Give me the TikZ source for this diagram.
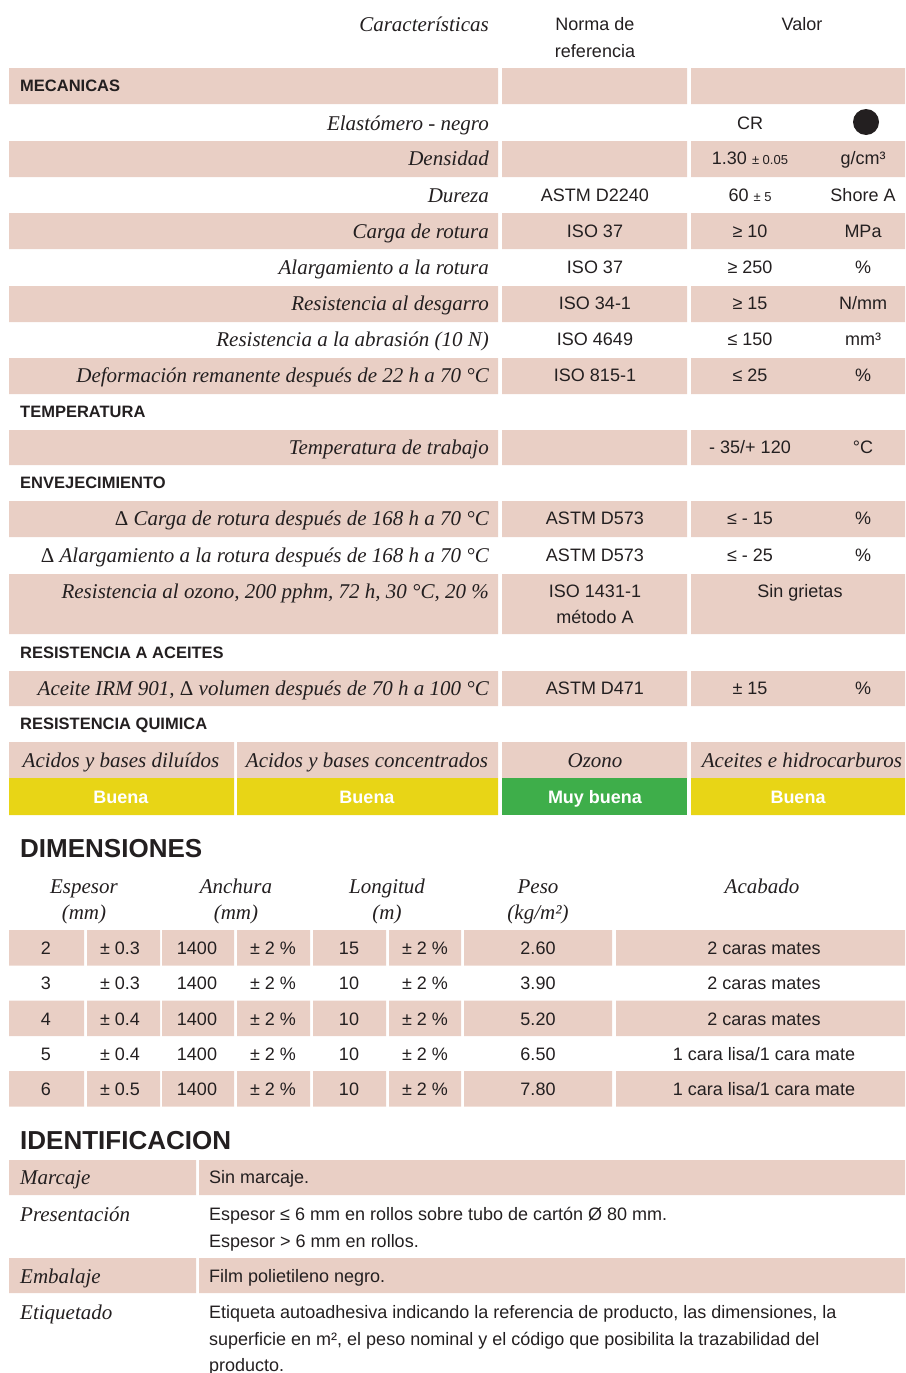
\documentclass[tikz,border=0pt]{standalone}
\usepackage{fontspec}
\setmainfont{Liberation Serif}
\setsansfont{Liberation Sans}
\usetikzlibrary{positioning}

\definecolor{rowpink}{HTML}{E9CFC5}
\definecolor{goodyellow}{HTML}{E8D516}
\definecolor{goodgreen}{HTML}{3EAE4A}
\definecolor{ink}{HTML}{231F20}

\newcommand{\charfont}{\fontsize{21}{24}\selectfont\rmfamily\itshape}
\newcommand{\valfont}{\fontsize{18}{22}\selectfont\sffamily}
\newcommand{\secfont}{\fontsize{16.5}{19}\selectfont\sffamily\bfseries}
\newcommand{\titlefont}{\fontsize{26}{30}\selectfont\sffamily\bfseries}
\newcommand{\tolfont}{\fontsize{13}{15}\selectfont}
\newcommand{\pinkrow}[2]{\fill[cell] (9,#1) rectangle (498,#2) (502,#1) rectangle (687,#2) (691,#1) rectangle (905,#2);}

\begin{document}
\begin{tikzpicture}[x=1pt, y=-1pt,
    cell/.style={fill=rowpink},
    charac/.style={anchor=base east, inner sep=0pt, font=\charfont, text=ink},
    valtext/.style={anchor=base, inner sep=0pt, font=\valfont, text=ink},
    secthead/.style={anchor=base west, inner sep=0pt, font=\secfont, text=ink},
    bigtitle/.style={anchor=base west, inner sep=0pt, font=\titlefont, text=ink},
    rating/.style={anchor=base, inner sep=0pt, font=\fontsize{18}{22}\selectfont\sffamily\bfseries, text=white},
    dimhead/.style={anchor=base, inner sep=0pt, font=\charfont, text=ink},
    idkey/.style={anchor=base west, inner sep=0pt, font=\charfont, text=ink},
    idtext/.style={anchor=base west, inner sep=0pt, font=\valfont, text=ink}
]
\useasboundingbox (0,0) rectangle (905,1373);

% pink bands of the properties table
\pinkrow{68}{104}
\pinkrow{141}{177}
\pinkrow{213}{249}
\pinkrow{286}{322}
\pinkrow{358}{394}
\pinkrow{430}{465}
\pinkrow{501}{537}
\pinkrow{574}{634}
\pinkrow{671}{706}

% header
\node[charac] (hchar) at (489,31) {Características};
\node[valtext] (hnorm1) at (595,30) {Norma de};
\node[valtext] (hnorm2) at (595,57) {referencia};
\node[valtext] (hval) at (802,30) {Valor};

% mecanicas
\node[secthead] (mec) at (20,91) {MECANICAS};

\node[charac] (elast) at (489,130) {Elastómero - negro};
\node[valtext] (v-elast) at (750,129.5) {CR};
\fill[ink] (866,122) circle (13);

\node[charac] (dens) at (489,165) {Densidad};
\node[valtext] (v-dens) at (750,164.5) {1.30 {\tolfont ± 0.05}};
\node[valtext] (u-dens) at (863,164.5) {g/cm³};

\node[charac] (dur) at (489,202) {Dureza};
\node[valtext] (n-dur) at (595,201.5) {ASTM D2240};
\node[valtext] (v-dur) at (750,201.5) {60 {\tolfont ± 5}};
\node[valtext] (u-dur) at (863,201.5) {Shore A};

\node[charac] (carga) at (489,238) {Carga de rotura};
\node[valtext] (n-carga) at (595,237.5) {ISO 37};
\node[valtext] (v-carga) at (750,237.5) {≥ 10};
\node[valtext] (u-carga) at (863,237.5) {MPa};

\node[charac] (alarg) at (489,274) {Alargamiento a la rotura};
\node[valtext] (n-alarg) at (595,273.5) {ISO 37};
\node[valtext] (v-alarg) at (750,273.5) {≥ 250};
\node[valtext] (u-alarg) at (863,273.5) {\%};

\node[charac] (desg) at (489,310) {Resistencia al desgarro};
\node[valtext] (n-desg) at (595,309.5) {ISO 34-1};
\node[valtext] (v-desg) at (750,309.5) {≥ 15};
\node[valtext] (u-desg) at (863,309.5) {N/mm};

\node[charac] (abras) at (489,346) {Resistencia a la abrasión (10 N)};
\node[valtext] (n-abras) at (595,345.5) {ISO 4649};
\node[valtext] (v-abras) at (750,345.5) {≤ 150};
\node[valtext] (u-abras) at (863,345.5) {mm³};

\node[charac] (deform) at (489,382) {Deformación remanente después de 22 h a 70 °C};
\node[valtext] (n-deform) at (595,381.5) {ISO 815-1};
\node[valtext] (v-deform) at (750,381.5) {≤ 25};
\node[valtext] (u-deform) at (863,381.5) {\%};

% temperatura
\node[secthead] (temp) at (20,417) {TEMPERATURA};
\node[charac] (trab) at (489,454) {Temperatura de trabajo};
\node[valtext] (v-trab) at (750,453.5) {- 35/+ 120};
\node[valtext] (u-trab) at (863,453.5) {°C};

% envejecimiento
\node[secthead] (env) at (20,488) {ENVEJECIMIENTO};
\node[charac] (dcarga) at (489,525) {\textup{Δ} Carga de rotura después de 168 h a 70 °C};
\node[valtext] (n-dcarga) at (595,524.5) {ASTM D573};
\node[valtext] (v-dcarga) at (750,524.5) {≤ - 15};
\node[valtext] (u-dcarga) at (863,524.5) {\%};

\node[charac] (dalarg) at (489,562) {\textup{Δ} Alargamiento a la rotura después de 168 h a 70 °C};
\node[valtext] (n-dalarg) at (595,561.5) {ASTM D573};
\node[valtext] (v-dalarg) at (750,561.5) {≤ - 25};
\node[valtext] (u-dalarg) at (863,561.5) {\%};

\node[charac] (ozono) at (489,598) {Resistencia al ozono, 200 pphm, 72 h, 30 °C, 20 \%};
\node[valtext] (n-ozono1) at (595,597.5) {ISO 1431-1};
\node[valtext] (n-ozono2) at (595,623.5) {método A};
\node[valtext] (v-ozono) at (800,597.5) {Sin grietas};

% aceites
\node[secthead] (aceit) at (20,658) {RESISTENCIA A ACEITES};
\node[charac] (irm) at (489,695) {Aceite IRM 901, \textup{Δ} volumen después de 70 h a 100 °C};
\node[valtext] (n-irm) at (595,694.5) {ASTM D471};
\node[valtext] (v-irm) at (750,694.5) {± 15};
\node[valtext] (u-irm) at (863,694.5) {\%};

% quimica
\node[secthead] (quim) at (20,729) {RESISTENCIA QUIMICA};
\fill[cell] (9,742) rectangle (234,778) (237,742) rectangle (498,778) (502,742) rectangle (687,778) (691,742) rectangle (905,778);
\fill[goodyellow] (9,778) rectangle (234,815) (237,778) rectangle (498,815) (691,778) rectangle (905,815);
\fill[goodgreen] (502,778) rectangle (687,815);
\node[dimhead] (diluidos) at (121,767) {Acidos y bases diluídos};
\node[dimhead] (concent) at (367,767) {Acidos y bases concentrados};
\node[dimhead] (ozon) at (595,767) {Ozono};
\node[dimhead] (hidroc) at (802,767) {Aceites e hidrocarburos};
\node[rating] (r-diluidos) at (121,803) {Buena};
\node[rating] (r-concent) at (367,803) {Buena};
\node[rating] (r-ozon) at (595,803) {Muy buena};
\node[rating] (r-hidroc) at (798,803) {Buena};

% dimensiones
\node[bigtitle] (dim) at (20,857) {DIMENSIONES};
\node[dimhead] (h-esp) at (84,893) {Espesor};
\node[dimhead] (h-esp2) at (84,919) {(mm)};
\node[dimhead] (h-anch) at (236,893) {Anchura};
\node[dimhead] (h-anch2) at (236,919) {(mm)};
\node[dimhead] (h-long) at (387,893) {Longitud};
\node[dimhead] (h-long2) at (387,919) {(m)};
\node[dimhead] (h-peso) at (538,893) {Peso};
\node[dimhead] (h-peso2) at (538,919) {(kg/m²)};
\node[dimhead] (h-acab) at (762,893) {Acabado};

\foreach \i/\e/\t/\l/\p/\a in {1/2/0.3/15/2.60/{2 caras mates},
                               2/3/0.3/10/3.90/{2 caras mates},
                               3/4/0.4/10/5.20/{2 caras mates},
                               4/5/0.4/10/6.50/{1 cara lisa/1 cara mate},
                               5/6/0.5/10/7.80/{1 cara lisa/1 cara mate}} {
  \pgfmathsetmacro{\yc}{948+(\i-1)*35.25}
  \ifodd\i
    \fill[cell] (9,\yc-18) rectangle (84,\yc+17.5) (87,\yc-18) rectangle (160,\yc+17.5)
                (162,\yc-18) rectangle (234,\yc+17.5) (237,\yc-18) rectangle (310,\yc+17.5)
                (313,\yc-18) rectangle (386,\yc+17.5) (389,\yc-18) rectangle (461,\yc+17.5)
                (464,\yc-18) rectangle (612,\yc+17.5) (616,\yc-18) rectangle (905,\yc+17.5);
  \fi
  \node[valtext] (esp-\i) at (46,\yc+6.5) {\e};
  \node[valtext] (etol-\i) at (120,\yc+6.5) {± \t};
  \node[valtext] (anch-\i) at (197,\yc+6.5) {1400};
  \node[valtext] (atol-\i) at (273,\yc+6.5) {± 2 \%};
  \node[valtext] (long-\i) at (349,\yc+6.5) {\l};
  \node[valtext] (ltol-\i) at (425,\yc+6.5) {± 2 \%};
  \node[valtext] (peso-\i) at (538,\yc+6.5) {\p};
  \node[valtext] (acab-\i) at (764,\yc+6.5) {\a};
}

% identificacion
\node[bigtitle] (ident) at (20,1149) {IDENTIFICACION};
\fill[cell] (9,1160) rectangle (196,1195) (199,1160) rectangle (905,1195);
\fill[cell] (9,1258) rectangle (196,1293) (199,1258) rectangle (905,1293);

\node[idkey] (marc) at (20,1184) {Marcaje};
\node[idtext] (t-marc) at (209,1183.5) {Sin marcaje.};
\node[idkey] (pres) at (20,1221) {Presentación};
\node[idtext] (t-pres1) at (209,1220.5) {Espesor ≤ 6 mm en rollos sobre tubo de cartón Ø 80 mm.};
\node[idtext] (t-pres2) at (209,1247.5) {Espesor > 6 mm en rollos.};
\node[idkey] (emb) at (20,1283) {Embalaje};
\node[idtext] (t-emb) at (209,1282.5) {Film polietileno negro.};
\node[idkey] (etiq) at (20,1319) {Etiquetado};
\node[idtext] (t-etiq1) at (209,1318.5) {Etiqueta autoadhesiva indicando la referencia de producto, las dimensiones, la};
\node[idtext] (t-etiq2) at (209,1345.5) {superficie en m², el peso nominal y el código que posibilita la trazabilidad del};
\node[idtext] (t-etiq3) at (209,1371.5) {producto.};

\end{tikzpicture}
\end{document}
